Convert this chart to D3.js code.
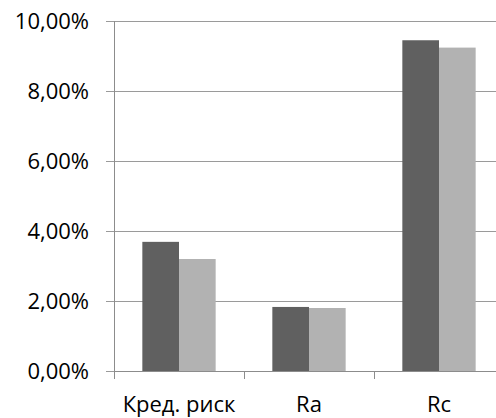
<!DOCTYPE html>
<html>
<head>
<meta charset="utf-8">
<script src="https://cdn.jsdelivr.net/npm/d3@7"></script>
<style>
  html, body { margin: 0; padding: 0; background: #fff; }
  svg { display: block; }
  text { font-family: "Open Sans", sans-serif; fill: #000; }
</style>
</head>
<body>
<svg id="chart" width="496" height="418"></svg>
<script>
// Chart data
const categories = ["Кред. риск", "Ra", "Rc"];
const seriesA = [0.0369, 0.0183, 0.0945];
const seriesB = [0.0320, 0.0180, 0.0924];
const yTicks = [0, 0.02, 0.04, 0.06, 0.08, 0.10];

const seriesColors = ["#606060", "#b2b2b2"];

const svg = d3.select("#chart");
const margin = { left: 114, right: -8, top: 21, bottom: 47 };
const W = 496, H = 418;

const x = d3.scaleBand()
  .domain(categories)
  .range([margin.left, W - margin.right])
  .paddingInner(0)
  .paddingOuter(0);

const x1 = d3.scaleBand()
  .domain([0, 1])
  .range([0, x.bandwidth()])
  .paddingOuter(0.773)
  .paddingInner(0);

const y = d3.scaleLinear()
  .domain([0, 0.10])
  .range([H - margin.bottom, margin.top]);

const fmt = v => d3.format(".2f")(v * 100).replace(".", ",") + "%";

// Horizontal gridlines
svg.append("g")
  .selectAll("line")
  .data(yTicks)
  .join("line")
  .attr("x1", margin.left - 8)
  .attr("x2", W - margin.right)
  .attr("y1", d => Math.round(y(d)) + 0.5)
  .attr("y2", d => Math.round(y(d)) + 0.5)
  .attr("stroke", "#9a9a9a")
  .attr("stroke-width", 1);

// Y axis labels
svg.append("g")
  .selectAll("text")
  .data(yTicks)
  .join("text")
  .attr("x", 89)
  .attr("y", d => y(d))
  .attr("dy", "0.36em")
  .attr("text-anchor", "end")
  .style("font-size", "22px")
  .text(fmt);

// Bars
const rows = categories.map((c, i) => ({ c, vals: [seriesA[i], seriesB[i]] }));
svg.append("g")
  .selectAll("g")
  .data(rows)
  .join("g")
  .attr("transform", d => `translate(${x(d.c)},0)`)
  .selectAll("rect")
  .data(d => d.vals.map((v, k) => ({ v, k })))
  .join("rect")
  .attr("x", d => x1(d.k))
  .attr("width", x1.bandwidth())
  .attr("y", d => y(d.v))
  .attr("height", d => y(0) - y(d.v))
  .attr("fill", d => seriesColors[d.k]);

// Y axis line
svg.append("line")
  .attr("x1", margin.left + 0.5).attr("x2", margin.left + 0.5)
  .attr("y1", y(0.10)).attr("y2", y(0) + 8)
  .attr("stroke", "#8c8c8c");

// X axis line and category ticks
svg.append("line")
  .attr("x1", margin.left).attr("x2", W - margin.right)
  .attr("y1", Math.round(y(0)) + 0.5).attr("y2", Math.round(y(0)) + 0.5)
  .attr("stroke", "#8c8c8c");

const catEdges = categories.map(c => x(c)).concat([x(categories[categories.length - 1]) + x.bandwidth()]);
svg.append("g")
  .selectAll("line")
  .data(catEdges)
  .join("line")
  .attr("x1", d => Math.round(d) + 0.5)
  .attr("x2", d => Math.round(d) + 0.5)
  .attr("y1", y(0))
  .attr("y2", y(0) + 8)
  .attr("stroke", "#8c8c8c");

// Category labels
svg.append("g")
  .selectAll("text")
  .data(categories)
  .join("text")
  .attr("x", d => x(d) + x.bandwidth() / 2)
  .attr("y", 412)
  .attr("text-anchor", "middle")
  .style("font-size", "22px")
  .text(d => d);
</script>
</body>
</html>
